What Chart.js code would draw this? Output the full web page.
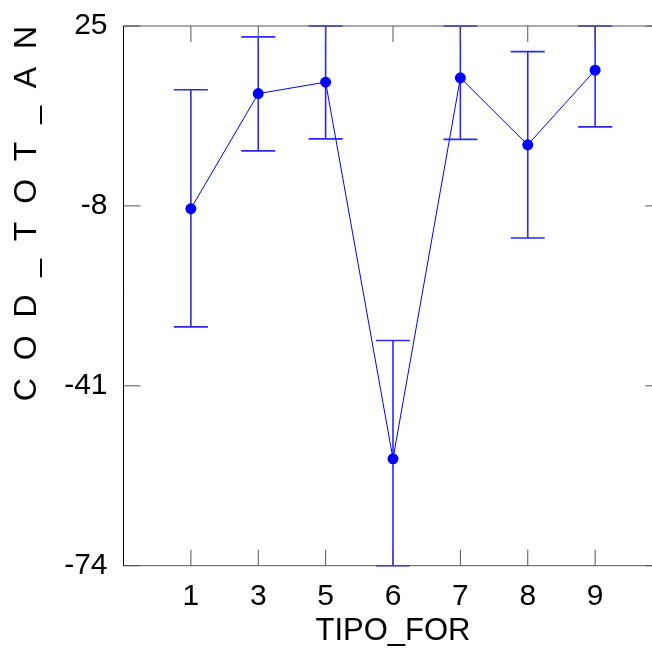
<!DOCTYPE html>
<html>
<head>
<meta charset="utf-8">
<script src="https://cdn.jsdelivr.net/npm/chart.js@4/dist/chart.umd.min.js"></script>
<style>
    body { margin: 0; overflow: hidden; background: #fff; }
    #caixa { width: 668px; height: 650px; }
</style>
</head>
<body>
<div id="caixa"><canvas id="graficoMedias"></canvas></div>
<script>
// Categorias do eixo X (TIPO_FOR)
const categorias = ['1', '3', '5', '6', '7', '8', '9'];
// Médias de COD_TOT_AN para cada categoria
const medias = [-8.5, 12.6, 14.7, -54.4, 15.5, 3.2, 16.9];
// Limites inferior e superior das barras de erro
const limiteInferior = [-30.2, 2.1, 4.3, -76.1, 4.2, -13.9, 6.5];
const limiteSuperior = [13.3, 23.0, 25.1, -32.7, 26.9, 20.3, 27.3];
// Marcas do eixo Y
const marcasY = [-74, -41, -8, 25];

const fonte = 'Liberation Sans, Arial, sans-serif';

// Plugin para desenhar as barras de erro (usando as escalas do gráfico)
const barrasErro = {
    id: 'barrasErro',
    beforeDatasetsDraw: function (chart) {
        const ctx = chart.ctx;
        const xs = chart.scales.x;
        const ys = chart.scales.y;
        ctx.save();
        ctx.strokeStyle = 'rgb(40, 40, 255)';
        ctx.lineWidth = 1.6;
        for (let i = 0; i < categorias.length; i++) {
            let x = xs.getPixelForValue(i + 1);
            let sup = Math.min(limiteSuperior[i], ys.max);
            let inf = Math.max(limiteInferior[i], ys.min);
            let yTopo = ys.getPixelForValue(sup);
            let yBase = ys.getPixelForValue(inf);
            ctx.beginPath();
            ctx.moveTo(x, yTopo);
            ctx.lineTo(x, yBase);
            ctx.moveTo(x - 17, yTopo);
            ctx.lineTo(x + 17, yTopo);
            ctx.moveTo(x - 17, yBase);
            ctx.lineTo(x + 17, yBase);
            ctx.stroke();
        }
        ctx.restore();
    },
    // Moldura e marcas para dentro
    afterDraw: function (chart) {
        const ctx = chart.ctx;
        const a = chart.chartArea;
        const xs = chart.scales.x;
        const ys = chart.scales.y;
        ctx.save();
        ctx.lineWidth = 1;
        ctx.strokeStyle = '#555';
        ctx.beginPath();
        ctx.moveTo(a.left, a.top);
        ctx.lineTo(a.right, a.top);
        ctx.moveTo(a.left, a.bottom);
        ctx.lineTo(a.right, a.bottom);
        ctx.moveTo(a.right, a.top);
        ctx.lineTo(a.right, a.bottom);
        for (let i = 0; i < categorias.length; i++) {
            let x = xs.getPixelForValue(i + 1);
            ctx.moveTo(x, a.bottom);
            ctx.lineTo(x, a.bottom - 16);
            ctx.moveTo(x, a.top);
            ctx.lineTo(x, a.top + 16);
        }
        for (let j = 0; j < marcasY.length; j++) {
            let y = ys.getPixelForValue(marcasY[j]);
            ctx.moveTo(a.left, y);
            ctx.lineTo(a.left + 17, y);
            ctx.moveTo(a.right, y);
            ctx.lineTo(a.right - 17, y);
        }
        ctx.stroke();
        ctx.strokeStyle = '#000';
        ctx.beginPath();
        ctx.moveTo(a.left, a.top);
        ctx.lineTo(a.left, a.bottom);
        ctx.stroke();
        ctx.restore();
    }
};

function plotarGrafico() {
    let pontos = [];
    for (let i = 0; i < categorias.length; i++) {
        pontos.push({ x: i + 1, y: medias[i] });
    }

    const config = {
        type: 'line',
        data: {
            datasets: [{
                label: 'COD_TOT_AN',
                data: pontos,
                borderColor: 'rgb(0, 0, 255)',
                backgroundColor: 'rgb(0, 0, 255)',
                borderWidth: 1,
                pointRadius: 5.5,
                pointBorderWidth: 0,
                pointBackgroundColor: 'rgb(0, 0, 255)',
                tension: 0,
                clip: false
            }]
        },
        options: {
            responsive: true,
            maintainAspectRatio: false,
            animation: false,
            layout: { padding: { top: 23.5, right: 5, left: 0, bottom: 0 } },
            plugins: {
                legend: { display: false },
                tooltip: { enabled: false }
            },
            scales: {
                x: {
                    type: 'linear',
                    min: 0,
                    max: 8,
                    grid: { display: false },
                    border: { display: false },
                    afterBuildTicks: function (escala) {
                        escala.ticks = categorias.map(function (c, i) { return { value: i + 1 }; });
                    },
                    afterFit: function (escala) { escala.height = 84.3; },
                    ticks: {
                        autoSkip: false,
                        maxRotation: 0,
                        padding: 5,
                        color: '#000',
                        font: { family: fonte, size: 30 },
                        callback: function (valor) { return categorias[valor - 1]; }
                    },
                    title: {
                        display: true,
                        text: 'TIPO_FOR',
                        color: '#000',
                        padding: 0,
                        font: { family: fonte, size: 31 }
                    }
                },
                y: {
                    min: -74,
                    max: 25,
                    grid: { display: false },
                    border: { display: false },
                    afterBuildTicks: function (escala) {
                        escala.ticks = marcasY.map(function (v) { return { value: v }; });
                    },
                    afterFit: function (escala) { escala.width = 123.5; },
                    ticks: {
                        padding: 8,
                        color: '#000',
                        font: { family: fonte, size: 30 }
                    },
                    title: {
                        display: true,
                        text: 'C  O  D  _  T  O  T  _  A  N',
                        align: 'end',
                        color: '#000',
                        padding: { top: 8, bottom: 0 },
                        font: { family: fonte, size: 32 }
                    }
                }
            }
        },
        plugins: [barrasErro]
    };

    new Chart(document.getElementById('graficoMedias'), config);
}

plotarGrafico();
</script>
</body>
</html>
